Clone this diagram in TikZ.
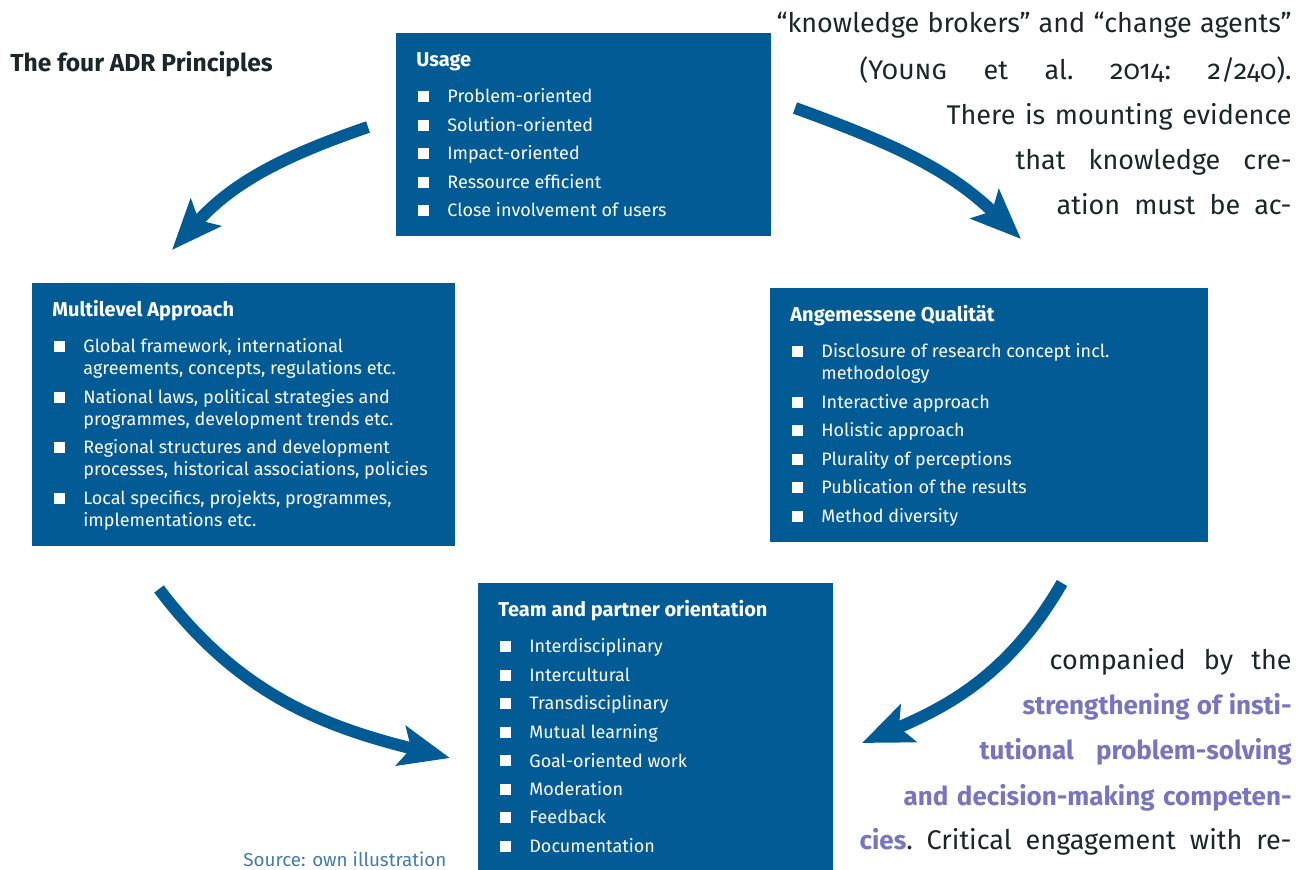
\documentclass[tikz,border=0pt]{standalone}
\usepackage{fontspec}
\setmainfont{Fira Sans}
\usetikzlibrary{arrows.meta}

\definecolor{adrblue}{RGB}{3,91,149}
\definecolor{adrpurple}{RGB}{120,116,192}
\definecolor{srcblue}{RGB}{66,122,178}
\definecolor{textdark}{RGB}{28,38,40}

% box contents
\newcommand\boxtitle[1]{{\fontsize{10}{11}\selectfont\bfseries #1}\par\vspace{7pt}}
\newcommand\boxitem[1]{{\hangindent=15.5pt\hangafter=1\noindent\makebox[15.5pt][l]{\hspace{1pt}\raisebox{0.4pt}{\rule{5.5pt}{5.5pt}}}#1\par}\vspace{3.25pt}}
% one justified line of the running text, right edge at 1292
\newcommand\jtext[2]{\makebox[\dimexpr(1292pt-#1pt)/2\relax][s]{#2}}
\newcommand\hl[1]{{\color{adrpurple}\bfseries\fontsize{13}{22.5}\selectfont #1}}

\tikzset{
	adrbox/.style={anchor=north west, fill=adrblue, inner sep=0pt},
	boxtext/.style={anchor=base west, inner sep=0pt, text=white},
	bodyline/.style={anchor=base east, inner sep=0pt, text=textdark, font=\fontsize{13.5}{22.5}\selectfont},
	flow/.style={line width=6pt, adrblue, -{Stealth[length=25pt, width=20pt, inset=5pt]}}
}

\begin{document}
\begin{tikzpicture}[x=0.5pt, y=-0.5pt]
	\useasboundingbox (0,0) rectangle (1305,870);

	\node[anchor=base west, inner sep=0pt, text=textdark, font=\fontsize{12.3}{14}\selectfont\bfseries] (title) at (10,72) {The four ADR Principles};

	% the four principles
	\node[adrbox, minimum width=187.5pt, minimum height=101.5pt] (usage) at (396,33) {};
	\node[boxtext] (usage text) at ([xshift=10pt, yshift=-17pt]usage.north west) {\parbox[t]{170pt}{\fontsize{9}{11}\selectfont
		\boxtitle{Usage}
		\boxitem{Problem-oriented}
		\boxitem{Solution-oriented}
		\boxitem{Impact-oriented}
		\boxitem{Ressource efficient}
		\boxitem{Close involvement of users}}};

	\node[adrbox, minimum width=211.5pt, minimum height=131.5pt] (multi) at (32,283) {};
	\node[boxtext] (multi text) at ([xshift=10pt, yshift=-17pt]multi.north west) {\parbox[t]{200pt}{\fontsize{9}{11}\selectfont
		\boxtitle{Multilevel Approach}
		\boxitem{Global framework, international\newline agreements, concepts, regulations etc.}
		\boxitem{National laws, political strategies and\newline programmes, development trends etc.}
		\boxitem{Regional structures and development\newline processes, historical associations, policies}
		\boxitem{Local specifics, projekts, programmes,\newline implementations etc.}}};

	\node[adrbox, minimum width=219pt, minimum height=127pt] (quality) at (770,288) {};
	\node[boxtext] (quality text) at ([xshift=10pt, yshift=-17pt]quality.north west) {\parbox[t]{200pt}{\fontsize{9}{11}\selectfont
		\boxtitle{Angemessene Qualität}
		\boxitem{Disclosure of research concept incl.\newline methodology}
		\boxitem{Interactive approach}
		\boxitem{Holistic approach}
		\boxitem{Plurality of perceptions}
		\boxitem{Publication of the results}
		\boxitem{Method diversity}}};

	\node[adrbox, minimum width=177.5pt, minimum height=150pt] (team) at (478,583) {};
	\node[boxtext] (team text) at ([xshift=10pt, yshift=-17pt]team.north west) {\parbox[t]{165pt}{\fontsize{9}{11}\selectfont
		\boxtitle{Team and partner orientation}
		\boxitem{Interdisciplinary}
		\boxitem{Intercultural}
		\boxitem{Transdisciplinary}
		\boxitem{Mutual learning}
		\boxitem{Goal-oriented work}
		\boxitem{Moderation}
		\boxitem{Feedback}
		\boxitem{Documentation}}};

	\node[anchor=base west, inner sep=0pt, text=srcblue, font=\fontsize{9.4}{11}\selectfont] (source) at (243,866) {Source: own illustration};

	% curved arrows between the boxes
	\coordinate (usage left) at (368,127);
	\coordinate (multi top) at (172,250);
	\coordinate (usage right) at (795,108);
	\coordinate (quality top) at (1021,239);
	\coordinate (quality bottom) at (1062,583);
	\coordinate (team right) at (862,743);
	\coordinate (multi bottom) at (159,589);
	\coordinate (team left) at (450,758);
	\draw[flow] (usage left) to[out=199, in=48] (multi top);
	\draw[flow] (usage right) to[out=-20, in=136] (quality top);
	\draw[flow] (quality bottom) to[out=240, in=23] (team right);
	\draw[flow] (multi bottom) to[out=-53, in=166] (team left);

	% running text of the page
	\node[bodyline] (l1) at (1292,33) {\jtext{777}{“knowledge brokers” and “change agents”}};
	\node[bodyline] (l2) at (1292,80) {\jtext{860}{(\textsc{Young} et al.\ {\addfontfeatures{Numbers=OldStyle}2014:\ 2/240}).}};
	\node[bodyline] (l3) at (1292,125) {\jtext{947}{There is mounting evidence}};
	\node[bodyline] (l4) at (1292,170) {\jtext{1016}{that knowledge cre-}};
	\node[bodyline] (l5) at (1292,215) {\jtext{1057}{ation must be ac-}};
	\node[bodyline] (l6) at (1292,669) {\jtext{1050}{companied by the}};
	\node[bodyline] (l7) at (1292,714) {\jtext{1023}{\hl{strengthening of insti-}}};
	\node[bodyline] (l8) at (1292,759) {\jtext{980}{\hl{tutional problem-solving}}};
	\node[bodyline] (l9) at (1292,805) {\jtext{904}{\hl{and decision-making competen-}}};
	\node[bodyline] (l10) at (1292,849) {\jtext{860}{\hl{cies}.\ Critical engagement with re-}};
\end{tikzpicture}
\end{document}
